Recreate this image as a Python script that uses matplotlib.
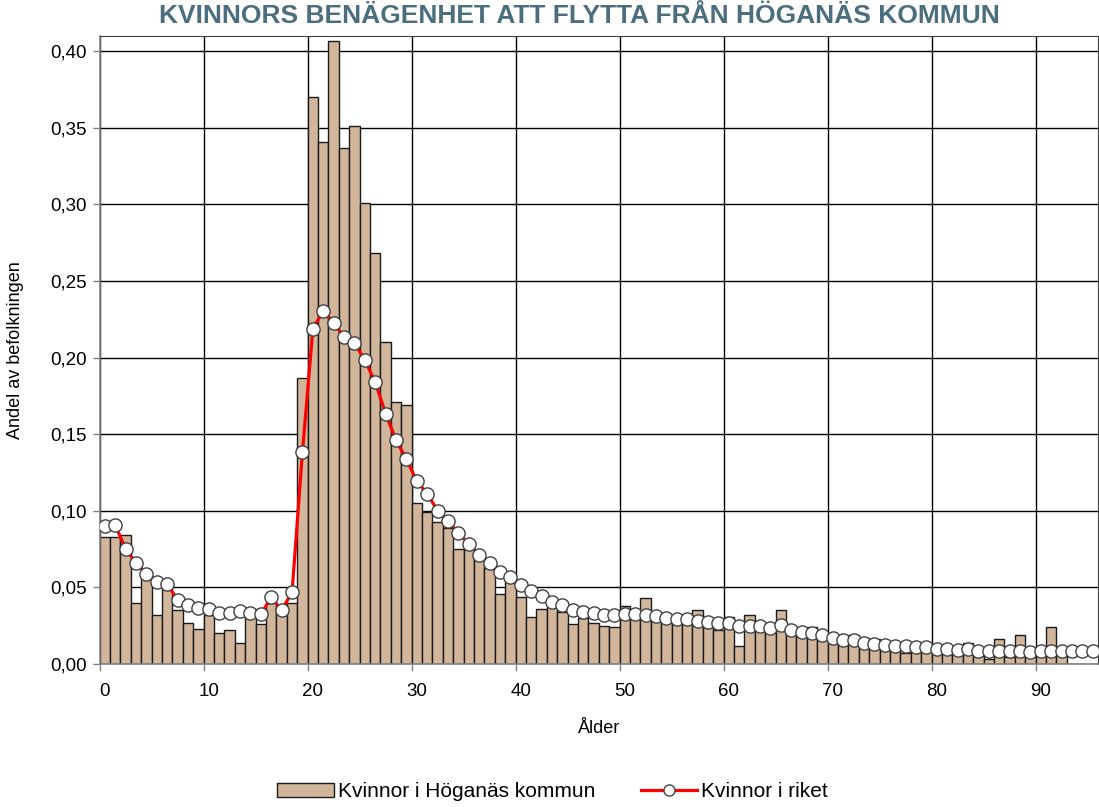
import matplotlib
matplotlib.use("Agg")
import matplotlib.pyplot as plt
from matplotlib.ticker import FixedLocator, FuncFormatter
from matplotlib.lines import Line2D
from matplotlib.patches import Patch

title = "KVINNORS BENÄGENHET ATT FLYTTA FRÅN HÖGANÄS KOMMUN"
x_label = "Ålder"
y_label = "Andel av befolkningen"
series_names = ["Kvinnor i Höganäs kommun", "Kvinnor i riket"]

hoganas = [0.083, 0.083, 0.084, 0.040, 0.056, 0.032, 0.049, 0.035, 0.027, 0.023,
           0.032, 0.020, 0.022, 0.014, 0.036, 0.026, 0.040, 0.038, 0.040, 0.187,
           0.370, 0.341, 0.407, 0.337, 0.351, 0.301, 0.268, 0.210, 0.171, 0.169,
           0.105, 0.099, 0.093, 0.089, 0.075, 0.075, 0.070, 0.063, 0.046, 0.054,
           0.044, 0.031, 0.036, 0.037, 0.034, 0.026, 0.030, 0.027, 0.025, 0.024,
           0.038, 0.030, 0.043, 0.030, 0.028, 0.028, 0.028, 0.035, 0.024, 0.022,
           0.031, 0.012, 0.032, 0.022, 0.021, 0.035, 0.020, 0.018, 0.024, 0.016,
           0.014, 0.014, 0.019, 0.017, 0.016, 0.012, 0.011, 0.007, 0.014, 0.011,
           0.008, 0.010, 0.008, 0.0135, 0.005, 0.003, 0.016, 0.0045, 0.019, 0.005,
           0.006, 0.024, 0.007]

riket = [0.0900, 0.0907, 0.0750, 0.0660, 0.0585, 0.0533, 0.0520, 0.0420, 0.0385, 0.0363,
         0.0357, 0.0335, 0.0331, 0.0346, 0.0335, 0.0326, 0.0435, 0.0352, 0.0468, 0.1386,
         0.2188, 0.2305, 0.2228, 0.2133, 0.2095, 0.1986, 0.1839, 0.1634, 0.1461, 0.1336,
         0.1195, 0.1110, 0.1001, 0.0931, 0.0857, 0.0782, 0.0713, 0.0659, 0.0603, 0.0566,
         0.0516, 0.0474, 0.0441, 0.0407, 0.0385, 0.0355, 0.0342, 0.0333, 0.0322, 0.0320,
         0.0324, 0.0326, 0.0320, 0.0315, 0.0298, 0.0294, 0.0292, 0.0281, 0.0276, 0.0265,
         0.0265, 0.0248, 0.0250, 0.0248, 0.0233, 0.0255, 0.0222, 0.0207, 0.0200, 0.0189,
         0.0170, 0.0157, 0.0155, 0.0135, 0.0131, 0.0124, 0.0120, 0.0117, 0.0109, 0.0109,
         0.0098, 0.0098, 0.0091, 0.0098, 0.0087, 0.0082, 0.0085, 0.0087, 0.0085, 0.0080,
         0.0085, 0.0085, 0.0082, 0.0087, 0.0087, 0.0087]

ages_h = list(range(len(hoganas)))
ages_r = list(range(len(riket)))
x_ticks = [0, 10, 20, 30, 40, 50, 60, 70, 80, 90]
y_ticks = [0.00, 0.05, 0.10, 0.15, 0.20, 0.25, 0.30, 0.35, 0.40]

font = ["Liberation Sans", "DejaVu Sans"]
plt.rcParams["font.family"] = font

fig = plt.figure(figsize=(10.99, 8.07), dpi=100)
ax = fig.add_axes([0.0907, 0.1772, 0.9084, 0.7782])

bar_color = "#D2B69C"
ax.bar(ages_h, hoganas, width=1.0, color=bar_color, edgecolor="#1a1a1a",
       linewidth=1.0, zorder=2)
ax.plot(ages_r, riket, color="#FF0000", lw=2.3, marker="o", markersize=9.5,
        markerfacecolor="white", markeredgecolor="#404040", markeredgewidth=1.0,
        zorder=3)

ax.set_xlim(-0.5, len(riket) - 0.5)
ax.set_ylim(0, 0.41)

# category-style axis: labels at centres, gridlines at boundaries
ax.xaxis.set_major_locator(FixedLocator(x_ticks))
ax.set_xticklabels([str(t) for t in x_ticks])
ax.xaxis.set_minor_locator(FixedLocator([t - 0.5 for t in x_ticks]))
ax.tick_params(axis="x", which="major", length=0, pad=14, labelsize=13.5)
ax.tick_params(axis="x", which="minor", length=5, color="#808080", width=1)
ax.set_yticks(y_ticks)
ax.yaxis.set_major_formatter(FuncFormatter(lambda v, p: f"{v:.2f}".replace(".", ",")))
ax.tick_params(axis="y", which="major", length=5, color="#808080", width=1,
               labelsize=13.5, pad=4)

ax.grid(True, axis="y", which="major", color="black", lw=1.0, zorder=0)
ax.grid(True, axis="x", which="minor", color="black", lw=1.0, zorder=0)
ax.set_axisbelow(True)

for s in ["left", "bottom"]:
    ax.spines[s].set_color("#808080")
    ax.spines[s].set_linewidth(1.2)
ax.spines["top"].set_color("#404040")
ax.spines["right"].set_color("#404040")

ax.set_xlabel(x_label, fontsize=13, labelpad=14)
ax.set_ylabel(y_label, fontsize=13, labelpad=19)

fig.text(0.527, 0.980, title, ha="center", va="center", fontsize=19,
         fontweight="bold", color="#4A6E7E",
         family=["Liberation Sans Narrow", "Liberation Sans", "DejaVu Sans"])

handles = [Patch(facecolor=bar_color, edgecolor="#1a1a1a", linewidth=1.0),
           Line2D([0], [0], color="#FF0000", lw=2.3, marker="o", markersize=8,
                  markerfacecolor="white", markeredgecolor="#404040")]
fig.legend(handles, series_names, loc="lower center", bbox_to_anchor=(0.503, -0.016),
           ncol=2, frameon=False, fontsize=15, handlelength=2.7, handleheight=0.65,
           columnspacing=2.2, handletextpad=0.2)

fig.savefig("out.png", dpi=100)
